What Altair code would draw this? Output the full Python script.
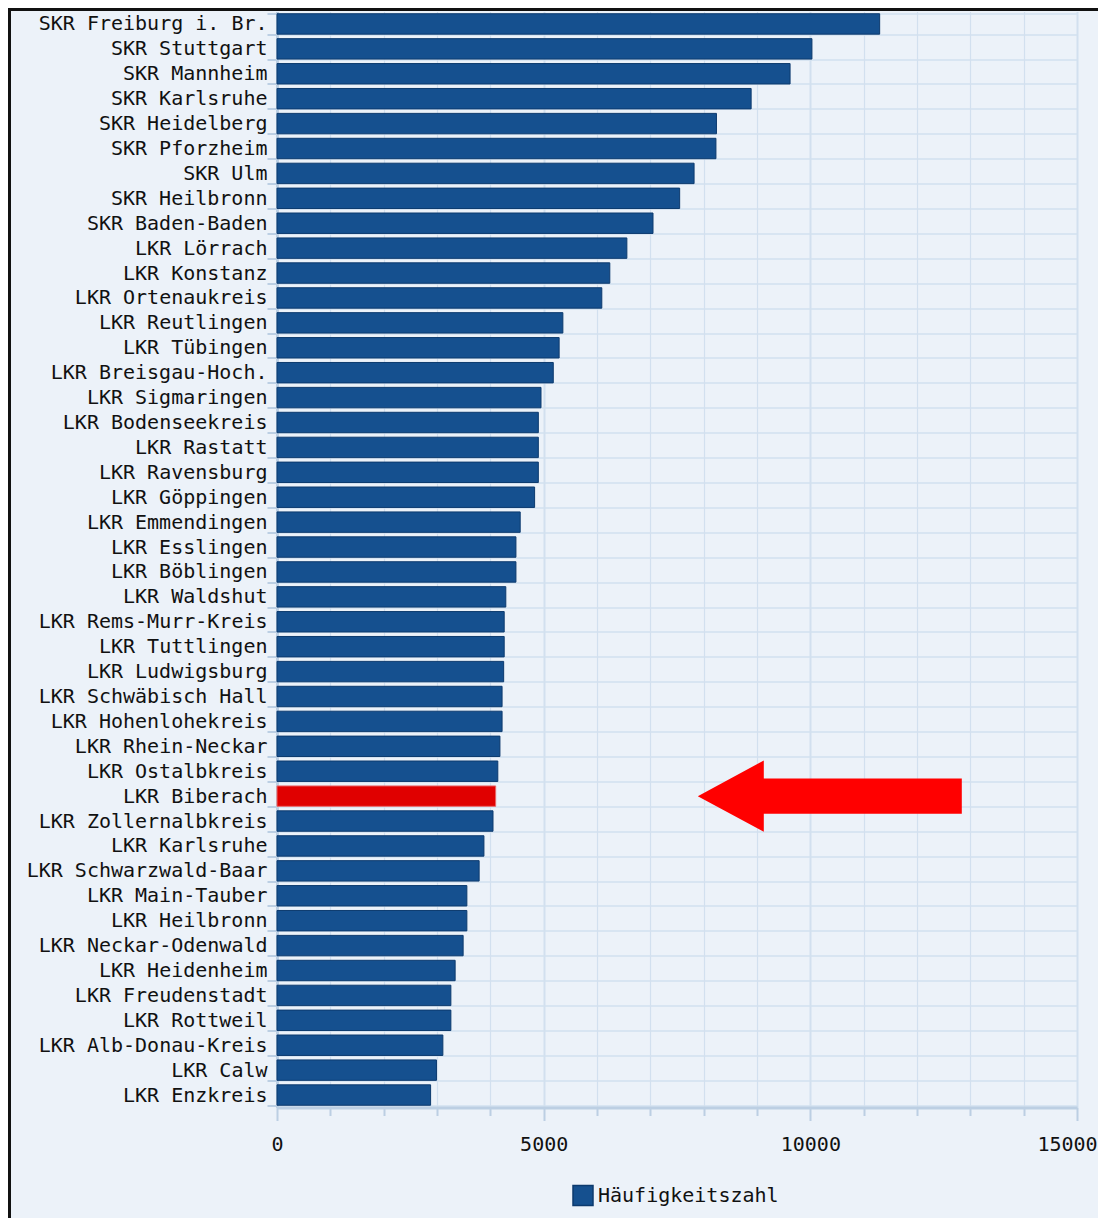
import altair as alt
import pandas as pd

names = [
    "SKR Freiburg i. Br.", "SKR Stuttgart", "SKR Mannheim", "SKR Karlsruhe",
    "SKR Heidelberg", "SKR Pforzheim", "SKR Ulm", "SKR Heilbronn",
    "SKR Baden-Baden", "LKR Lörrach", "LKR Konstanz", "LKR Ortenaukreis",
    "LKR Reutlingen", "LKR Tübingen", "LKR Breisgau-Hoch.", "LKR Sigmaringen",
    "LKR Bodenseekreis", "LKR Rastatt", "LKR Ravensburg", "LKR Göppingen",
    "LKR Emmendingen", "LKR Esslingen", "LKR Böblingen", "LKR Waldshut",
    "LKR Rems-Murr-Kreis", "LKR Tuttlingen", "LKR Ludwigsburg",
    "LKR Schwäbisch Hall", "LKR Hohenlohekreis", "LKR Rhein-Neckar",
    "LKR Ostalbkreis", "LKR Biberach", "LKR Zollernalbkreis", "LKR Karlsruhe",
    "LKR Schwarzwald-Baar", "LKR Main-Tauber", "LKR Heilbronn",
    "LKR Neckar-Odenwald", "LKR Heidenheim", "LKR Freudenstadt",
    "LKR Rottweil", "LKR Alb-Donau-Kreis", "LKR Calw", "LKR Enzkreis",
]
values = [
    11300, 10030, 9620, 8890, 8240, 8230, 7820, 7550, 7050, 6560, 6240, 6090,
    5360, 5290, 5180, 4950, 4900, 4900, 4900, 4830, 4560, 4480, 4480, 4290,
    4260, 4260, 4250, 4220, 4220, 4180, 4140, 4100, 4050, 3880, 3790, 3560,
    3560, 3490, 3340, 3260, 3260, 3110, 2990, 2880,
]
series_name = "Häufigkeitszahl"
highlight = "LKR Biberach"
x_ticks = list(range(0, 15001, 1000))

# annotation arrow: tip position (category, value)
arrow_target = ["LKR Biberach"]
arrow_tip_value = [7890]

df = pd.DataFrame({"name": names, "value": values, "series": series_name})
arrow_df = pd.DataFrame({"name": arrow_target, "value": arrow_tip_value})
frame_df = pd.DataFrame({"k": [0]})

FONT = "DejaVu Sans Mono"
BLUE = "#15508f"
BLUE_DARK = "#0c3a6e"
RED = "#e00000"
AXIS = "#bccfe3"
GRID = "#d2e0ef"
BG = "#ecf2f9"

W, H = 800, 1096

y_enc = alt.Y(
    "name:N",
    sort=names,
    scale=alt.Scale(paddingInner=0.18, paddingOuter=0.09),
    axis=alt.Axis(
        title=None,
        labelFont=FONT,
        labelFontSize=20,
        labelColor="#111111",
        labelPadding=0,
        tickBand="extent",
        tickSize=10,
        tickWidth=2,
        tickColor=AXIS,
        domainColor=AXIS,
        domainWidth=3,
        grid=True,
        gridColor=GRID,
        gridWidth=1.5,
        labelLimit=400,
    ),
)

x_enc = alt.X(
    "value:Q",
    scale=alt.Scale(domain=[0, 15000], nice=False),
    axis=alt.Axis(
        title=None,
        values=x_ticks,
        format="d",
        labelExpr="datum.value % 5000 === 0 ? datum.label : ''",
        labelFont=FONT,
        labelFontSize=20,
        labelColor="#111111",
        labelPadding=14,
        labelFlush=False,
        labelOverlap=False,
        labelOffset={"condition": {"test": "datum.value === 15000", "value": -10}, "value": 0},
        tickColor=AXIS,
        tickWidth=2,
        tickSize={"condition": {"test": "datum.value % 5000 === 0", "value": 13}, "value": 8},
        domainColor=AXIS,
        domainWidth=3,
        grid=True,
        gridColor=GRID,
        gridWidth={"condition": {"test": "datum.value % 5000 === 0", "value": 2}, "value": 1.2},
    ),
)

bars = alt.Chart(df).mark_bar(strokeWidth=1).encode(
    y=y_enc,
    x=x_enc,
    color=alt.condition(
        alt.datum.name == highlight,
        alt.value(RED),
        alt.Color(
            "series:N",
            scale=alt.Scale(domain=[series_name], range=[BLUE]),
            legend=alt.Legend(
                title=None,
                orient="none",
                legendX=295,
                legendY=1173,
                padding=0,
                symbolType="square",
                symbolSize=400,
                symbolStrokeColor=BLUE_DARK,
                symbolStrokeWidth=1.5,
                symbolOpacity=1,
                labelFont=FONT,
                labelFontSize=20,
                labelColor="#111111",
                labelOffset=4,
                labelLimit=400,
            ),
        ),
    ),
    stroke=alt.condition(
        alt.datum.name == highlight, alt.value("#e86868"), alt.value(BLUE_DARK)
    ),
)

arrow_path = "M0,0 L0.5,-0.27 L0.5,-0.134 L2,-0.134 L2,0.134 L0.5,0.134 L0.5,0.27 Z"
arrow = alt.Chart(arrow_df).mark_point(
    shape=arrow_path, size=264 * 264, filled=True, fill="#ff0000", opacity=1, strokeWidth=0
).encode(
    y=alt.Y("name:N", sort=names),
    x=alt.X("value:Q"),
)

frame_left = alt.Chart(frame_df).mark_rule(color="#111111", strokeWidth=3).encode(
    x=alt.value(-267.5), y=alt.value(-3.5), y2=alt.value(H + 112)
)
frame_top = alt.Chart(frame_df).mark_rule(color="#111111", strokeWidth=3).encode(
    y=alt.value(-2), x=alt.value(-269), x2=alt.value(W + 21)
)

chart = (
    alt.layer(bars, arrow, frame_left, frame_top)
    .properties(
        width=W,
        height=H,
        autosize=alt.AutoSizeParams(type="none"),
        padding={"left": 269, "top": 3.5, "right": 21, "bottom": 110},
        background=BG,
    )
    .configure_view(strokeWidth=0)
)

chart.save("out.html", embed_options={"renderer": "svg", "actions": False})
